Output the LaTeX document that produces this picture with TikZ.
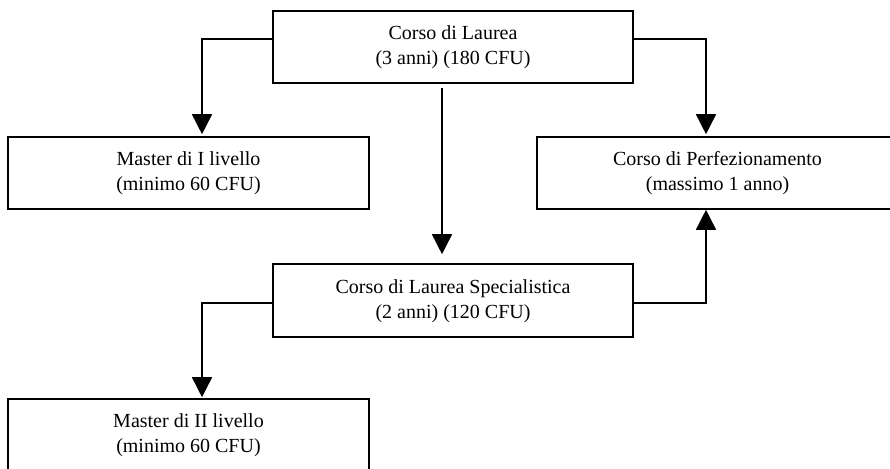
\documentclass[tikz,border=0pt]{standalone}
\usepackage{fontspec}
\setmainfont{Liberation Serif}
\usetikzlibrary{arrows.meta,calc}
\begin{document}
\begin{tikzpicture}[x=1pt,y=-1pt,
  box/.style={draw=black,line width=1.6pt,rectangle,inner sep=0pt,align=center,
    font=\fontsize{20}{25}\selectfont},
  arr/.style={line width=1.6pt,-{Triangle[width=20pt,length=20pt]}}]
\useasboundingbox (0,0) rectangle (890,468);
\clip (0,0) rectangle (890,468);
\fill[white] (0,0) rectangle (890,468);
\node[box,minimum width=360pt,minimum height=72pt] (L) at (453,47)
  {\strut Corso di Laurea\\\strut (3 anni) (180 CFU)};
\node[box,minimum width=361pt,minimum height=72pt] (M1) at (188.5,173)
  {\strut Master di I livello\\\strut (minimo 60 CFU)};
\node[box,minimum width=361pt,minimum height=72pt] (P) at (717.5,173)
  {\strut Corso di Perfezionamento\\\strut (massimo 1 anno)};
\node[box,minimum width=360pt,minimum height=73pt] (S) at (453,300.5)
  {\strut Corso di Laurea Specialistica\\\strut (2 anni) (120 CFU)};
\node[box,minimum width=361pt,minimum height=72pt] (M2) at (188.5,435)
  {\strut Master di II livello\\\strut (minimo 60 CFU)};
\draw[arr] ($(L.west)+(0,-8)$) -| ($(M1.north)+(13.5,-2)$);
\draw[arr] ($(L.east)+(0,-8)$) -| ($(P.north)+(-11.5,-2)$);
\draw[arr] ($(L.south)+(-11,4)$) -- ($(S.north)+(-11,-9)$);
\draw[arr] ($(S.east)+(0,2.5)$) -| ($(P.south)+(-11.5,0)$);
\draw[arr] ($(S.west)+(0,2.5)$) -| ($(M2.north)+(13.5,-1)$);
\end{tikzpicture}
\end{document}
